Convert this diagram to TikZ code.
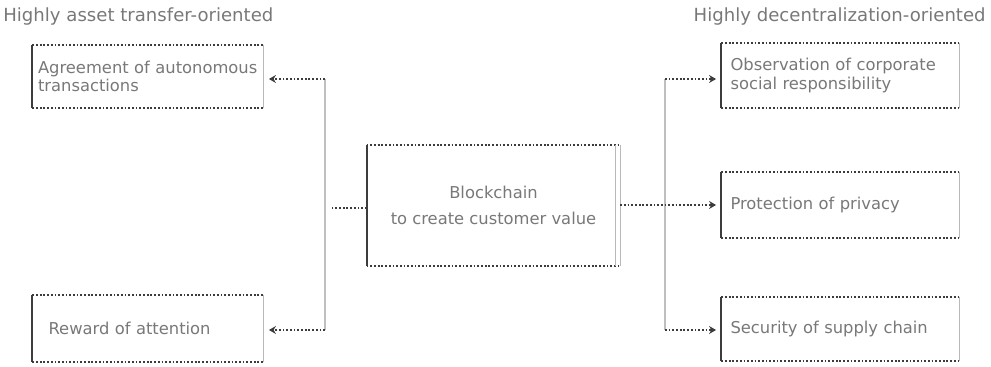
\documentclass[tikz,border=0pt]{standalone}
\usepackage{fontspec}
\setmainfont{DejaVu Sans}
\usetikzlibrary{arrows.meta}
\definecolor{ink}{RGB}{120,120,120}
\definecolor{rim}{RGB}{60,60,60}
\tikzset{
  panel/.style={draw=none,inner xsep=3pt,align=left,font=\fontsize{9.3}{10.5}\selectfont,text=ink,anchor=center},
  heading/.style={font=\fontsize{10.3}{12}\selectfont,text=ink,inner sep=0pt},
  topbot/.style={rim,line width=1.2pt,dash pattern=on 1pt off 1.1pt},
  leftedge/.style={rim,line width=1.2pt},
  rightedge/.style={gray!55,line width=0.5pt},
  link/.style={rim,line width=1.2pt,dash pattern=on 1pt off 1.1pt,-{Stealth[length=4pt,width=4.5pt]}},
  trunk/.style={gray!50,line width=0.8pt}
}
\begin{document}
\begin{tikzpicture}[x=0.02cm,y=-0.02cm]
  \useasboundingbox (0,0) rectangle (991,367);

  \node[heading,anchor=west] (tleft) at (3,17) {Highly asset transfer-oriented};
  \node[heading,anchor=east] (tright) at (986,17) {Highly decentralization-oriented};

  \node[panel,minimum width=4.6cm,minimum height=1.26cm,text width=4.4cm] (agree) at (148,76.5) {Agreement of autonomous\\transactions};
  \node[panel,minimum width=4.6cm,minimum height=1.34cm,text width=4.4cm] (reward) at (148,328.5) {\hspace{6pt}Reward of attention};
  \node[panel,minimum width=5.06cm,minimum height=2.42cm,align=center,font=\fontsize{9.3}{15}\selectfont] (chain) at (493.5,205.5) {Blockchain\\to create customer value};
  \node[panel,minimum width=4.7cm,minimum height=1.3cm,text width=4.4cm,inner xsep=5pt] (csr) at (840.5,75.5) {Observation of corporate\\social responsibility};
  \node[panel,minimum width=4.7cm,minimum height=1.32cm,text width=4.4cm,inner xsep=5pt] (privacy) at (840.5,205) {Protection of privacy};
  \node[panel,minimum width=4.7cm,minimum height=1.28cm,text width=4.4cm,inner xsep=5pt] (supply) at (840.5,329) {Security of supply chain};

  % box borders
  \foreach \b in {agree,reward,chain,csr,privacy,supply}{
    \draw[topbot] (\b.north west) -- (\b.north east);
    \draw[topbot] (\b.south west) -- (\b.south east);
    \draw[leftedge] (\b.north west) -- (\b.south west);
    \draw[rightedge] (\b.north east) -- (\b.south east);
  }
  \draw[rightedge] ([xshift=-3pt]chain.north east) -- ([xshift=-3pt]chain.south east);

  % left branch
  \coordinate (jl) at (331,208);
  \coordinate (ltop) at (325,79);
  \coordinate (lbot) at (325,330);
  \draw[trunk] (ltop) -- (lbot);
  \draw[topbot] (chain.west |- jl) -- (jl);
  \draw[link] (ltop) -- ([xshift=3pt]ltop -| agree.east);
  \draw[link] (lbot) -- ([xshift=3pt]lbot -| reward.east);

  % right branch
  \coordinate (rtop) at (665,79);
  \coordinate (rbot) at (665,330);
  \draw[trunk] (rtop) -- (rbot);
  \draw[link] (chain.east |- privacy) -- ([xshift=-3pt]privacy.west);
  \draw[link] (rtop) -- ([xshift=-3pt]rtop -| csr.west);
  \draw[link] (rbot) -- ([xshift=-3pt]rbot -| supply.west);
\end{tikzpicture}
\end{document}
